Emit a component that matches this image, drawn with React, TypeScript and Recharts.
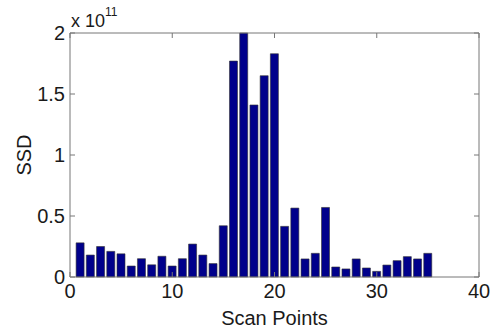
import { Bar, BarChart, XAxis, YAxis } from 'recharts';

const scanPoints = [
    1, 2, 3, 4, 5, 6, 7, 8, 9, 10, 11, 12, 13, 14, 15, 16, 17, 18, 19, 20,
    21, 22, 23, 24, 25, 26, 27, 28, 29, 30, 31, 32, 33, 34, 35,
];

// SSD per scan point (units of 1e11)
const ssd = [
    0.28, 0.18, 0.25, 0.21, 0.19, 0.09, 0.15, 0.1, 0.17, 0.09,
    0.15, 0.27, 0.18, 0.11, 0.42, 1.77, 2.0, 1.41, 1.65, 1.83,
    0.415, 0.565, 0.148, 0.194, 0.57, 0.082, 0.066, 0.148, 0.074, 0.046,
    0.098, 0.134, 0.167, 0.148, 0.194,
];

const xTicks = [0, 10, 20, 30, 40];
const yTicks = [0, 0.5e11, 1e11, 1.5e11, 2e11];

const FONT = '"Liberation Sans", Arial, sans-serif';
const AXIS = '#777';
const TEXT = '#1a1a1a';

const data = scanPoints.map((x, i) => ({ x, ssd: ssd[i] * 1e11 }));

const tickStyle = { fontSize: 20, fill: TEXT, fontFamily: FONT };

export default function App() {
    return (
        <div style={{ position: 'absolute', left: 0, top: 0, width: 491, height: 328, background: '#fff' }}>
            <BarChart
                width={491}
                height={328}
                data={data}
                margin={{ top: 32, right: 11, left: 0, bottom: 0 }}
                barSize={8}
            >
                <XAxis
                    xAxisId="bottom"
                    dataKey="x"
                    type="number"
                    domain={[0, 40]}
                    ticks={xTicks}
                    height={51}
                    stroke={AXIS}
                    tickSize={-5}
                    tickMargin={12}
                    tick={tickStyle}
                    label={{
                        value: 'Scan Points',
                        position: 'insideBottom',
                        offset: 3,
                        style: { fontSize: 20, fill: TEXT, fontFamily: FONT },
                    }}
                />
                <XAxis
                    xAxisId="top"
                    dataKey="x"
                    type="number"
                    orientation="top"
                    domain={[0, 40]}
                    ticks={xTicks}
                    height={1}
                    stroke={AXIS}
                    tickSize={-5}
                    tickFormatter={() => ''}
                />
                <YAxis
                    yAxisId="left"
                    domain={[0, 2e11]}
                    ticks={yTicks}
                    width={70}
                    stroke={AXIS}
                    tickSize={-5}
                    tickMargin={10}
                    tick={tickStyle}
                    tickFormatter={(v: number) => String(v / 1e11)}
                    label={{
                        value: 'SSD',
                        angle: -90,
                        position: 'insideLeft',
                        offset: 24,
                        style: { fontSize: 20, fill: TEXT, fontFamily: FONT, textAnchor: 'middle' },
                    }}
                />
                <YAxis
                    yAxisId="right"
                    orientation="right"
                    domain={[0, 2e11]}
                    ticks={yTicks}
                    width={1}
                    stroke={AXIS}
                    tickSize={-5}
                    tickFormatter={() => ''}
                />
                <Bar
                    xAxisId="bottom"
                    yAxisId="left"
                    dataKey="ssd"
                    fill="#00008b"
                    stroke="#333"
                    strokeWidth={0.6}
                    isAnimationActive={false}
                />
                {/* invisible twin so the top/right box axes get drawn */}
                <Bar
                    xAxisId="top"
                    yAxisId="right"
                    dataKey="ssd"
                    fill="none"
                    stroke="none"
                    isAnimationActive={false}
                />
            </BarChart>
            <div
                style={{
                    position: 'absolute',
                    left: 71,
                    top: 12,
                    fontFamily: FONT,
                    fontSize: 18,
                    color: TEXT,
                    lineHeight: 1,
                    whiteSpace: 'nowrap',
                }}
            >
                x 10<sup style={{ fontSize: 12, verticalAlign: 'top', position: 'relative', top: -6 }}>11</sup>
            </div>
        </div>
    );
}
